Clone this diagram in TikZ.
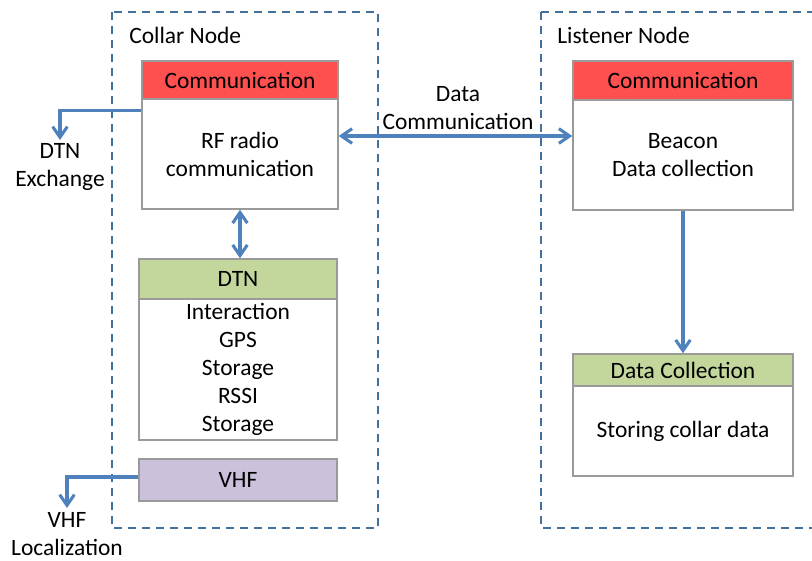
\documentclass[tikz,border=0pt]{standalone}
\usepackage{fontspec}
\setmainfont{Carlito}
\usetikzlibrary{arrows.meta}

\definecolor{hdrred}{HTML}{FF5050}
\definecolor{hdrgreen}{HTML}{C3D69B}
\definecolor{hdrpurple}{HTML}{CCC1DA}
\definecolor{boxgray}{HTML}{9A9A9A}
\definecolor{linkblue}{HTML}{4F81BD}
\definecolor{groupblue}{HTML}{41719C}

\tikzset{
  every node/.style={font=\fontsize{17.6}{21}\selectfont},
  part/.style={draw=boxgray, line width=1.1pt, inner sep=0pt, align=center,
    rectangle, minimum width=#1},
  part/.default=147pt,
  group/.style={draw=groupblue, line width=1.2pt, dash pattern=on 6pt off 4.5pt},
  barb/.tip={Straight Barb[length=8pt,width=11pt,line width=2.3pt]},
  link/.style={draw=linkblue, line width=2.4pt, -barb},
  dlink/.style={draw=linkblue, line width=2.4pt, barb-barb},
  caption/.style={align=center, inner sep=0pt}
}

\begin{document}
\begin{tikzpicture}[x=0.75pt, y=-0.75pt]
\useasboundingbox (0,0) rectangle (812,560);

% grouping frames
\draw[group] (112,12) rectangle (378,528);
\draw[group] (541,12) rectangle (820,528);
\node[anchor=west, inner sep=0pt] (collarlbl) at (129,35) {Collar Node};
\node[anchor=west, inner sep=0pt] (listenlbl) at (557,35) {Listener Node};

% collar node parts
\node[part, fill=hdrred, minimum height=28.5pt] (commhead) at (240,80) {Communication};
\node[part, fill=white, minimum height=82.5pt] (commbody) at (240,154) {RF radio\\communication};
\node[part=148.5pt, fill=hdrgreen, minimum height=30pt] (dtnhead) at (238,279) {DTN};
\node[part=148.5pt, fill=white, minimum height=105.75pt] (dtnbody) at (238,369.5)
  {Interaction\\GPS\\Storage\\RSSI\\Storage};
\node[part=148.5pt, fill=hdrpurple, minimum height=31.5pt] (vhf) at (238,480) {VHF};

% listener node parts
\node[part=165pt, fill=hdrred, minimum height=29.25pt] (lhead) at (683,80.5) {Communication};
\node[part=165pt, fill=white, minimum height=82.5pt] (lbody) at (683,155) {Beacon\\Data collection};
\node[part=165pt, fill=hdrgreen, minimum height=24pt] (dchead) at (683,370) {Data Collection};
\node[part=165pt, fill=white, minimum height=67.5pt] (dcbody) at (683,431) {Storing collar data};

% free ends of the outgoing links
\coordinate (dtnend) at (60,140);
\coordinate (vhfend) at (67,508);

% connectors
\draw[link] ([yshift=-9pt]commbody.north west) -| (dtnend);
\draw[link] ([yshift=2.25pt]vhf.west) -| (vhfend);
\draw[dlink] (commbody.south) -- (commbody.south |- dtnhead.north);
\draw[dlink] ([yshift=13.5pt]commbody.east) -- ([yshift=13.5pt]commbody.east -| lbody.west);
\draw[link] (lbody.south) -- (lbody.south |- dchead.north);

% link captions
\node[caption] (dtnlbl) at (60,167) {DTN\\Exchange};
\node[caption] (vhflbl) at (67,534) {VHF\\Localization};
\node[caption] (datalbl) at (458,108.5) {Data\\Communication};
\end{tikzpicture}
\end{document}
